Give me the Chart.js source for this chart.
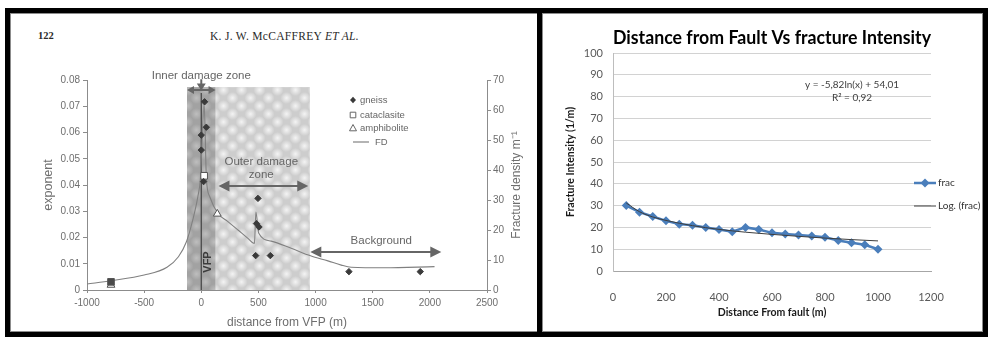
<!DOCTYPE html>
<html><head><meta charset="utf-8">
<script src="https://cdn.jsdelivr.net/npm/chart.js@4.4.1/dist/chart.umd.min.js"></script>
<style>
html,body{margin:0;padding:0;background:#fff;width:988px;height:338px;overflow:hidden;}
.frame{position:absolute;box-sizing:border-box;border:5px solid #000;}
.frame .inner{position:absolute;left:0;top:0;right:0;bottom:0;border:1px solid #8c8c8c;}
#f1{left:5px;top:8px;width:538px;height:329px;}
#f2{left:537px;top:8px;width:451px;height:329px;}
.hdr{position:absolute;font-family:'Liberation Serif','Times New Roman',serif;color:#2a2a2a;white-space:nowrap;}
#w1{position:absolute;left:12px;top:14px;width:522px;height:316px;}
#w2{position:absolute;left:545px;top:14px;width:438px;height:316px;}
</style></head>
<body>
<div class="frame" id="f1"><div class="inner"></div></div>
<div class="frame" id="f2"><div class="inner"></div></div>
<div class="hdr" style="left:38px;top:30px;font-size:10.5px;font-weight:bold;">122</div>
<div class="hdr" style="left:210px;top:30px;font-size:11.5px;letter-spacing:0.3px;">K. J. W. McCAFFREY <i>ET AL.</i></div>
<div id="w1"><canvas id="c1" width="522" height="316"></canvas></div>
<div id="w2"><canvas id="c2" width="438" height="316"></canvas></div>
<script>
// ---------- LEFT PANEL DATA (distance from VFP, m) ----------
const gneissX = [29, 44, 0, 0, 20, 496, 483, 505, 476, 604, 1292, 1916];
const gneissY = [0.0717, 0.062, 0.059, 0.0533, 0.0413, 0.0349, 0.0253, 0.0240, 0.0131, 0.0131, 0.0070, 0.0070];
const cataX = [25, -790];
const cataY = [0.0435, 0.0031];
const amphX = [140, -790];
const amphY = [0.029, 0.0019];
const fdX = [-1000, -790, -500, -300, -200, -130, -75, -30, -8, 25, 45, 75, 146, 233, 321, 408, 465, 478, 502, 612, 787, 956, 1108, 1225, 1312, 1604, 2041];
const fdY = [2.0, 3.1, 5.0, 7.6, 11.1, 16.1, 23.3, 31.1, 37, 62, 37, 31, 25.5, 22.8, 20, 17.2, 15.5, 26, 19, 16.3, 13.9, 11.4, 9.7, 8.3, 7.6, 7.4, 7.8];
const zoneBounds = [-125, 125, 950];   // inner zone -125..125, outer zone 125..950
const zoneTop = 0.0773;
const legendLeft = ['gneiss', 'cataclasite', 'amphibolite', 'FD'];

// ---------- RIGHT PANEL DATA ----------
const fracDist = [50, 100, 150, 200, 250, 300, 350, 400, 450, 500, 550, 600, 650, 700, 750, 800, 850, 900, 950, 1000];
const fracVals = [30, 27, 25, 23, 21.5, 21, 20, 19, 18, 20, 19, 17.5, 17, 16.5, 16, 15.5, 14, 13, 12, 10];
const trendDist = [50, 100, 150, 200, 300, 400, 500, 600, 700, 800, 900, 1000];
const trendVals = [31.2, 27.2, 24.8, 23.2, 20.8, 19.1, 17.8, 16.8, 15.9, 15.1, 14.4, 13.8];
const eqLines = ['y = -5,82ln(x) + 54,01', 'R² = 0,92'];

const sansL = "'Liberation Sans', Arial, sans-serif";
const sansR = "Lato, 'Open Sans', sans-serif";
const gTxt = '#6e6e6e';
const gAx = '#8c8c8c';
const pts = (xs, ys) => xs.map((x, i) => ({x, y: ys[i]}));

function patternCanvas(base, rgb, alpha) {
  const c = document.createElement('canvas'); c.width = 18; c.height = 16;
  const g = c.getContext('2d');
  g.fillStyle = base; g.fillRect(0, 0, 18, 16);
  for (const [bx, by] of [[4.5, 4], [13.5, 12]]) for (const dx of [-18, 0, 18]) for (const dy of [-16, 0, 16]) {
    const cx = bx + dx, cy = by + dy;
    const gr = g.createRadialGradient(cx, cy, 0, cx, cy, 6);
    gr.addColorStop(0, `rgba(${rgb},${alpha})`);
    gr.addColorStop(1, `rgba(${rgb},0)`);
    g.fillStyle = gr; g.fillRect(cx - 6, cy - 6, 12, 12);
  }
  return c;
}
function head(ctx, x, y, ang, len, hw) {
  const c = Math.cos(ang), s = Math.sin(ang);
  ctx.beginPath();
  ctx.moveTo(x, y);
  ctx.lineTo(x - len * c + hw * s, y - len * s - hw * c);
  ctx.lineTo(x - len * c - hw * s, y - len * s + hw * c);
  ctx.closePath(); ctx.fill();
}
function arrow(ctx, x1, y1, x2, y2, both, len, hw) {
  const ang = Math.atan2(y2 - y1, x2 - x1), c = Math.cos(ang), s = Math.sin(ang);
  ctx.beginPath();
  ctx.moveTo(both ? x1 + c * len * 0.7 : x1, both ? y1 + s * len * 0.7 : y1);
  ctx.lineTo(x2 - c * len * 0.7, y2 - s * len * 0.7);
  ctx.stroke();
  head(ctx, x2, y2, ang, len, hw);
  if (both) head(ctx, x1, y1, ang + Math.PI, len, hw);
}
function marker(ctx, type, x, y) {
  ctx.beginPath();
  if (type === 'diamond') { ctx.moveTo(x, y - 3.2); ctx.lineTo(x + 3, y); ctx.lineTo(x, y + 3.2); ctx.lineTo(x - 3, y); ctx.closePath(); ctx.fillStyle = '#3a3a3a'; ctx.fill(); }
  else if (type === 'square') { ctx.rect(x - 2.8, y - 2.8, 5.6, 5.6); ctx.fillStyle = '#fff'; ctx.fill(); ctx.strokeStyle = '#666'; ctx.lineWidth = 1; ctx.stroke(); }
  else if (type === 'triangle') { ctx.moveTo(x, y - 3.5); ctx.lineTo(x + 3.5, y + 2.8); ctx.lineTo(x - 3.5, y + 2.8); ctx.closePath(); ctx.fillStyle = '#fff'; ctx.fill(); ctx.strokeStyle = '#666'; ctx.lineWidth = 1; ctx.stroke(); }
}

let innerPat = null, outerPat = null;
const zonePlugin = {
  id: 'zones',
  beforeDatasetsDraw(chart) {
    const {ctx, scales: {x, y}} = chart;
    if (!innerPat) {
      innerPat = ctx.createPattern(patternCanvas('#a2a2a2', '200,200,200', 0.75), 'repeat');
      outerPat = ctx.createPattern(patternCanvas('#cdcdcd', '246,246,246', 0.95), 'repeat');
    }
    const yT = y.getPixelForValue(zoneTop), yB = y.getPixelForValue(0);
    const x0 = x.getPixelForValue(zoneBounds[0]), x1 = x.getPixelForValue(zoneBounds[1]), x2 = x.getPixelForValue(zoneBounds[2]);
    ctx.save();
    ctx.fillStyle = outerPat; ctx.fillRect(x1, yT, x2 - x1, yB - yT);
    ctx.fillStyle = innerPat; ctx.fillRect(x0, yT, x1 - x0, yB - yT);
    const xv = x.getPixelForValue(0);
    ctx.strokeStyle = '#4a4a4a'; ctx.lineWidth = 1.3;
    ctx.beginPath(); ctx.moveTo(xv, yB); ctx.lineTo(xv, yT + 6); ctx.stroke();
    ctx.translate(xv + 7, yB - 28); ctx.rotate(-Math.PI / 2);
    ctx.fillStyle = '#3c3c3c'; ctx.font = 'bold 11px ' + sansL;
    ctx.textAlign = 'center'; ctx.textBaseline = 'middle';
    ctx.fillText('VFP', 0, 0);
    ctx.restore();
  }
};
const annotPlugin = {
  id: 'annot',
  afterDatasetsDraw(chart) {
    const {ctx, scales: {x, y}, chartArea: ca} = chart;
    const X = v => x.getPixelForValue(v), Y = v => y.getPixelForValue(v);
    ctx.save();
    ctx.fillStyle = '#666'; ctx.strokeStyle = '#666'; ctx.lineWidth = 2;
    arrow(ctx, X(-125), Y(0.0762), X(125), Y(0.0762), true, 7, 4);
    arrow(ctx, X(0), Y(0.0803), X(0), Y(0.0760), false, 7, 4.5);
    arrow(ctx, X(150), Y(0.0396), X(936), Y(0.0396), true, 11, 5.5);
    arrow(ctx, X(954), Y(0.01448), X(2100), Y(0.01448), true, 11, 5.5);
    ctx.font = '11.5px ' + sansL; ctx.textAlign = 'center'; ctx.textBaseline = 'middle';
    ctx.fillStyle = '#666';
    ctx.fillText('Inner damage zone', X(0), Y(0.0815));
    ctx.fillText('Outer damage', X(525), Y(0.0488));
    ctx.fillText('zone', X(525), Y(0.0438));
    ctx.fillText('Background', X(1575), Y(0.0187));
    // legend
    const lx = ca.left + 266, rows = [20, 35, 48, 62].map(v => ca.top + v);
    const types = ['diamond', 'square', 'triangle'];
    ctx.font = '9.5px ' + sansL; ctx.textAlign = 'left'; ctx.fillStyle = '#666';
    for (let i = 0; i < 3; i++) { marker(ctx, types[i], lx, rows[i]); ctx.fillStyle = '#666'; ctx.fillText(legendLeft[i], lx + 7, rows[i]); }
    ctx.strokeStyle = '#777'; ctx.lineWidth = 1.1;
    ctx.beginPath(); ctx.moveTo(lx, rows[3]); ctx.lineTo(lx + 16, rows[3]); ctx.stroke();
    ctx.fillText(legendLeft[3], lx + 22, rows[3]);
    // right axis title
    ctx.translate(ca.right + 30, (ca.top + ca.bottom) / 2); ctx.rotate(-Math.PI / 2);
    ctx.font = '12px ' + sansL; ctx.textAlign = 'center'; ctx.fillStyle = gTxt;
    ctx.fillText('Fracture density m⁻¹', 0, 0);
    ctx.restore();
  }
};

new Chart(document.getElementById('c1'), {
  type: 'scatter',
  data: {datasets: [
    {label: 'FD', data: pts(fdX, fdY), yAxisID: 'y2', showLine: true, borderColor: '#808080', borderWidth: 1.1, pointRadius: 0, cubicInterpolationMode: 'monotone', order: 4},
    {label: 'gneiss', data: pts(gneissX, gneissY), pointStyle: 'rectRot', pointRadius: 3.2, backgroundColor: '#3a3a3a', borderColor: '#3a3a3a', borderWidth: 1, order: 1},
    {label: 'cataclasite', data: pts(cataX, cataY), pointStyle: 'rect', pointRadius: 4.7, backgroundColor: c => (c.raw && c.raw.x < 0) ? '#4a4a4a' : '#ffffff', borderColor: '#555', borderWidth: 1, order: 2},
    {label: 'amphibolite', data: pts(amphX, amphY), pointStyle: 'triangle', pointRadius: 4.5, backgroundColor: '#ffffff', borderColor: '#555', borderWidth: 1, order: 3}
  ]},
  options: {
    responsive: false, animation: false, events: [],
    layout: {padding: {left: 25, top: 66, right: 6, bottom: 0}},
    plugins: {legend: {display: false}, tooltip: {enabled: false}},
    scales: {
      x: {type: 'linear', min: -1000, max: 2500,
        afterFit: s => { s.height = 40; },
        ticks: {stepSize: 500, color: gTxt, font: {family: sansL, size: 10}, padding: 4, callback: v => String(v), maxRotation: 0},
        grid: {display: true, drawOnChartArea: false, drawTicks: true, tickLength: 3, color: gAx},
        border: {display: true, color: gAx},
        title: {display: true, text: 'distance from VFP (m)', color: gTxt, font: {family: sansL, size: 12}, padding: {top: 0, bottom: 0}}},
      y: {type: 'linear', position: 'left', min: 0, max: 0.08,
        afterFit: s => { s.width = 50; },
        ticks: {stepSize: 0.01, color: gTxt, font: {family: sansL, size: 10}, padding: 3, callback: v => v === 0 ? '0' : v.toFixed(2)},
        grid: {display: true, drawOnChartArea: false, drawTicks: true, tickLength: 4, color: gAx},
        border: {display: true, color: gAx},
        title: {display: true, text: 'exponent', color: gTxt, font: {family: sansL, size: 12.5}}},
      y2: {type: 'linear', position: 'right', min: 0, max: 70,
        afterFit: s => { s.width = 41; },
        ticks: {stepSize: 10, color: gTxt, font: {family: sansL, size: 10}, padding: 2},
        grid: {display: true, drawOnChartArea: false, drawTicks: true, tickLength: 4, color: gAx},
        border: {display: true, color: gAx}}
    }
  },
  plugins: [zonePlugin, annotPlugin]
});

// ---------- RIGHT CHART ----------
const blue = '#4a7ebb';
const rightDeco = {
  id: 'rightDeco',
  afterDraw(chart) {
    const {ctx, chartArea: ca} = chart;
    ctx.save();
    ctx.font = '10px ' + sansR; ctx.fillStyle = '#404040'; ctx.textAlign = 'center'; ctx.textBaseline = 'middle';
    ctx.fillText(eqLines[0], 307, 71);
    ctx.fillText(eqLines[1], 307, 84);
    // legend
    const lx0 = ca.right - 17, lx1 = ca.right + 5, y1 = ca.top + 130, y2 = ca.top + 153;
    ctx.strokeStyle = blue; ctx.lineWidth = 2.5;
    ctx.beginPath(); ctx.moveTo(lx0, y1); ctx.lineTo(lx1, y1); ctx.stroke();
    const mx = (lx0 + lx1) / 2;
    ctx.fillStyle = blue; ctx.beginPath(); ctx.moveTo(mx, y1 - 4.5); ctx.lineTo(mx + 4.5, y1); ctx.lineTo(mx, y1 + 4.5); ctx.lineTo(mx - 4.5, y1); ctx.closePath(); ctx.fill();
    ctx.strokeStyle = '#3d3d3d'; ctx.lineWidth = 1;
    ctx.beginPath(); ctx.moveTo(lx0, y2); ctx.lineTo(lx1, y2); ctx.stroke();
    ctx.font = '10px ' + sansR; ctx.fillStyle = '#333'; ctx.textAlign = 'left';
    ctx.fillText('frac', lx1 + 2, y1);
    ctx.fillText('Log. (frac)', lx1 + 2, y2);
    ctx.restore();
  }
};
new Chart(document.getElementById('c2'), {
  type: 'scatter',
  data: {datasets: [
    {label: 'frac', data: pts(fracDist, fracVals), showLine: true, borderColor: blue, backgroundColor: blue, borderWidth: 2.5, pointStyle: 'rectRot', pointRadius: 4.5, pointBorderWidth: 0, order: 2},
    {label: 'Log. (frac)', data: pts(trendDist, trendVals), showLine: true, borderColor: '#3d3d3d', borderWidth: 1, pointRadius: 0, cubicInterpolationMode: 'monotone', order: 1}
  ]},
  options: {
    responsive: false, animation: false, events: [],
    layout: {padding: {left: 15, top: 0, right: 52, bottom: 0}},
    plugins: {legend: {display: false}, tooltip: {enabled: false},
      title: {display: true, fullSize: false, text: 'Distance from Fault Vs fracture Intensity', color: '#000', font: {family: sansR, size: 19.5, weight: 'bold'}, padding: {top: 12, bottom: 3.6}}},
    scales: {
      x: {type: 'linear', min: 0, max: 1200,
        afterFit: s => { s.height = 59; },
        ticks: {stepSize: 200, color: '#595959', font: {family: sansR, size: 11}, padding: 12, callback: v => String(v), maxRotation: 0},
        grid: {display: false},
        border: {display: true, color: '#a6a6a6'},
        title: {display: true, text: 'Distance From fault (m)', color: '#1a1a1a', font: {family: sansR, size: 10.5, weight: 'bold'}, padding: {top: 0, bottom: 11.4}}},
      y: {type: 'linear', min: 0, max: 100,
        afterFit: s => { s.width = 53; },
        ticks: {stepSize: 10, color: '#595959', font: {family: sansR, size: 11}, padding: 10},
        grid: {color: '#d2d2d2', drawTicks: false},
        border: {display: true, color: '#bdbdbd'},
        title: {display: true, text: 'Fracture Intensity (1/m)', color: '#1a1a1a', font: {family: sansR, size: 10.5, weight: 'bold'}}}
    }
  },
  plugins: [rightDeco]
});
</script>
</body></html>
